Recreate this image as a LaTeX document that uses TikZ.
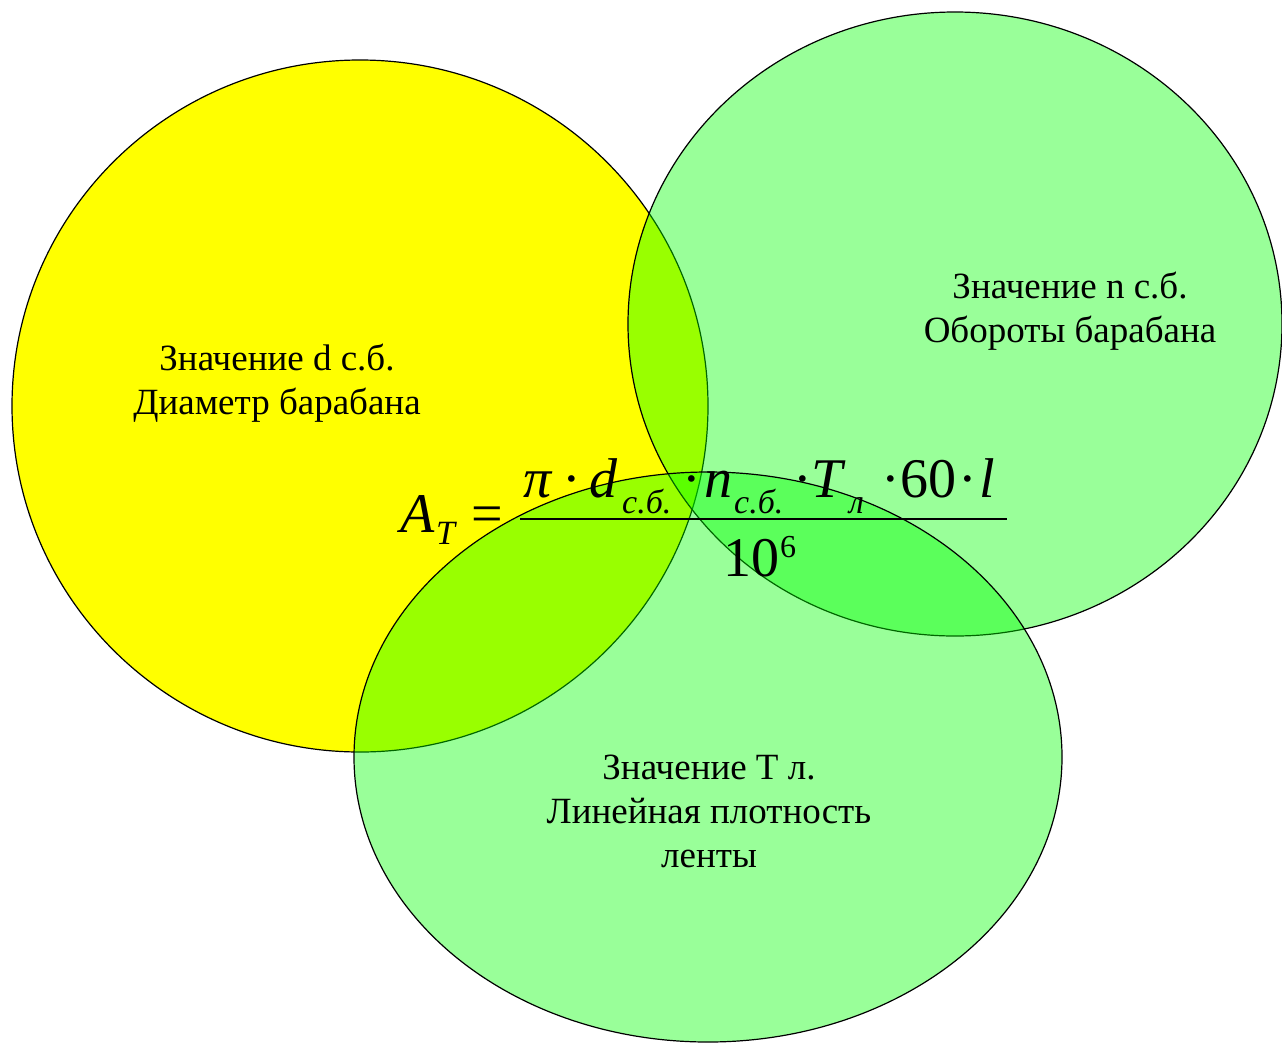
\documentclass[tikz,border=0pt]{standalone}
\usepackage{fontspec}
\setmainfont{Liberation Serif}
\begin{document}
\begin{tikzpicture}[x=1pt,y=-1pt,
  lbl/.style={align=center,font=\fontsize{37}{44}\selectfont,inner sep=0pt},
  big/.style={anchor=base west,inner sep=0pt,font=\fontsize{56}{60}\selectfont\itshape},
  bigu/.style={anchor=base west,inner sep=0pt,font=\fontsize{56}{60}\selectfont},
  sub/.style={anchor=base west,inner sep=0pt,font=\fontsize{34}{36}\selectfont\itshape},
  greenfill/.style={fill={rgb,255:red,0;green,255;blue,0},fill opacity=0.4,draw=black,line width=1.2pt}]
\useasboundingbox (0,0) rectangle (1282,1042);
\fill[white] (0,0) rectangle (1282,1042);
% circles
\draw[fill={rgb,255:red,255;green,255;blue,0},draw=black,line width=1.2pt] (360,406) ellipse [x radius=348,y radius=346];
\draw[greenfill] (955,324) ellipse [x radius=327,y radius=312];
\draw[greenfill] (708,757) ellipse [x radius=354,y radius=285];
% labels
\node[lbl] (ld) at (277,383) {Значение d с.б.\\Диаметр барабана};
\node[lbl] (ln) at (1070,311) {Значение n с.б.\\Обороты барабана};
\node[lbl] (lt) at (709,811) {Значение Т л.\\Линейная плотность\\ленты};
% formula
\node[big] (fA) at (400,532) {A};
\node[sub] (fAT) at (436,544) {T};
\node[bigu] (feq) at (471,532) {=};
\node[big] (fpi) at (523,497) {π};
\node[bigu] (fd1) at (562,497) {·};
\node[big] (fd) at (589,497) {d};
\node[sub] (fsd) at (622,513) {с.б.};
\node[bigu] (fd2) at (682,497) {·};
\node[big] (fn) at (704,497) {n};
\node[sub] (fsn) at (734,513) {с.б.};
\node[bigu] (fd3) at (793,497) {·};
\node[big] (fT) at (811,497) {T};
\node[sub] (fsT) at (849,513) {л};
\node[bigu] (fd4) at (881,497) {·};
\node[bigu] (f60) at (900,497) {60};
\node[bigu] (fd5) at (958,497) {·};
\node[big] (fl) at (979,497) {l};
\coordinate (barL) at (520,519);
\coordinate (barR) at (1007,519);
\draw[line width=2pt] (barL) -- (barR);
\node[bigu] (f10) at (723,576) {10};
\node[anchor=base west,inner sep=0pt,font=\fontsize{32}{34}\selectfont] (f6) at (780,557) {6};
\end{tikzpicture}
\end{document}
